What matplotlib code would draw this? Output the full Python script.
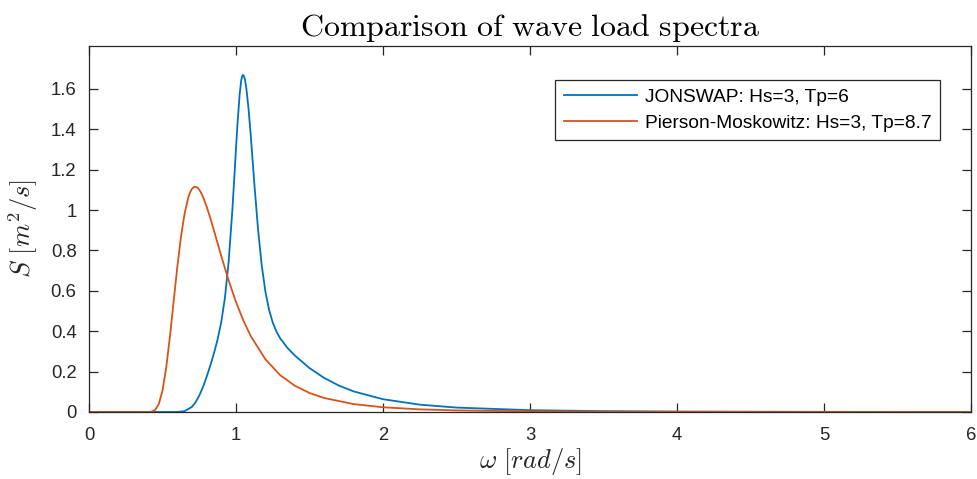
import matplotlib
matplotlib.use("Agg")
import matplotlib.pyplot as plt

# JONSWAP spectrum (Hs=3, Tp=6)
jon_w = [0, 0.5, 0.55, 0.6, 0.65, 0.7, 0.725, 0.75, 0.775, 0.8, 0.825, 0.85, 0.875,
         0.9, 0.925, 0.95, 0.975, 0.99, 1.0, 1.01, 1.025, 1.035, 1.041, 1.047, 1.053,
         1.06, 1.07, 1.085, 1.1, 1.125, 1.15, 1.175, 1.2, 1.225, 1.25, 1.275, 1.3,
         1.35, 1.4, 1.5, 1.6, 1.7, 1.8, 2.0, 2.25, 2.5, 3.0, 3.5, 4.0, 5.0, 6.0]
jon_S = [0, 0, 0.000003, 0.00026, 0.0042, 0.0253, 0.0481, 0.0810, 0.1234, 0.1736,
         0.2295, 0.2905, 0.3598, 0.4465, 0.5673, 0.7450, 0.9972, 1.1793, 1.3050,
         1.4253, 1.5747, 1.6397, 1.6615, 1.6692, 1.6649, 1.6486, 1.6054, 1.5039,
         1.3720, 1.1284, 0.9043, 0.7263, 0.5964, 0.5057, 0.4428, 0.3984, 0.3655,
         0.3175, 0.2798, 0.2176, 0.1686, 0.1308, 0.1020, 0.0633, 0.0364, 0.0219,
         0.0090, 0.0042, 0.0022, 0.0007, 0.0003]

# Pierson-Moskowitz spectrum (Hs=3, Tp=8.7)
pm_w = [0, 0.3, 0.4, 0.425, 0.45, 0.475, 0.5, 0.525, 0.55, 0.575, 0.6, 0.625, 0.65,
        0.675, 0.6875, 0.7, 0.7125, 0.722, 0.7375, 0.75, 0.7625, 0.775, 0.8, 0.825,
        0.85, 0.875, 0.9, 0.95, 1.0, 1.05, 1.1, 1.2, 1.3, 1.4, 1.5, 1.6, 1.8, 2.0,
        2.25, 2.5, 3.0, 3.5, 4.0, 5.0, 6.0]
pm_S = [0, 0, 0.0001, 0.0016, 0.0104, 0.0397, 0.1062, 0.2182, 0.3698, 0.5425,
        0.7136, 0.8639, 0.9814, 1.0612, 1.0872, 1.1045, 1.1137, 1.1157, 1.1110,
        1.1007, 1.0855, 1.0662, 1.0180, 0.9609, 0.8989, 0.8351, 0.7717, 0.6513,
        0.5446, 0.4532, 0.3766, 0.2610, 0.1829, 0.1302, 0.0942, 0.0693, 0.0392,
        0.0234, 0.0131, 0.0078, 0.0031, 0.0015, 0.0007, 0.0002, 0.0001]

labels = ["JONSWAP: Hs=3, Tp=6", "Pierson-Moskowitz: Hs=3, Tp=8.7"]
xticks = [0, 1, 2, 3, 4, 5, 6]
yticks = [0, 0.2, 0.4, 0.6, 0.8, 1.0, 1.2, 1.4, 1.6]
yticklabels = ["0", "0.2", "0.4", "0.6", "0.8", "1", "1.2", "1.4", "1.6"]

plt.rcParams['font.family'] = ['Liberation Sans', 'DejaVu Sans']
plt.rcParams['mathtext.fontset'] = 'cm'

axc = '#262626'
fig = plt.figure(figsize=(9.78, 4.79), dpi=100)
ax = fig.add_axes([89/978, 1-412/479, (971-89)/978, (412-46)/479])

ax.plot(jon_w, jon_S, color='#0072BD', lw=1.3, label=labels[0])
ax.plot(pm_w, pm_S, color='#D95319', lw=1.3, label=labels[1])

ax.set_xlim(0, 6)
ax.set_ylim(0, 1.8125)
ax.set_xticks(xticks)
ax.set_xticklabels([str(t) for t in xticks])
ax.set_yticks(yticks)
ax.set_yticklabels(yticklabels)

for s in ax.spines.values():
    s.set_color(axc)
    s.set_linewidth(0.9)
ax.tick_params(direction='in', length=6.3, width=0.9, colors=axc,
               top=True, right=True, labelsize=13.3)
ax.tick_params(axis='y', pad=9)
ax.tick_params(axis='x', pad=11)

ax.set_title(r'$\mathrm{Comparison\ of\ wave\ load\ spectra}$', fontsize=23,
             color='black', pad=7)
ax.set_xlabel(r'$\omega\ [rad/s]$', fontsize=19, color=axc, labelpad=1)
ax.set_ylabel(r'$S\ [m^2/s]$', fontsize=19, color=axc, labelpad=8)

leg = ax.legend(loc='upper right', bbox_to_anchor=(940/978, 1-80/479),
                bbox_transform=fig.transFigure, fontsize=13.8, frameon=True,
                fancybox=False, edgecolor=axc, framealpha=1,
                handlelength=3.8, handletextpad=0.42, borderpad=0.45,
                labelspacing=0.42, borderaxespad=0)
leg.get_frame().set_linewidth(0.9)
for t in leg.get_texts():
    t.set_color('black')

fig.savefig('out.png', dpi=100)
